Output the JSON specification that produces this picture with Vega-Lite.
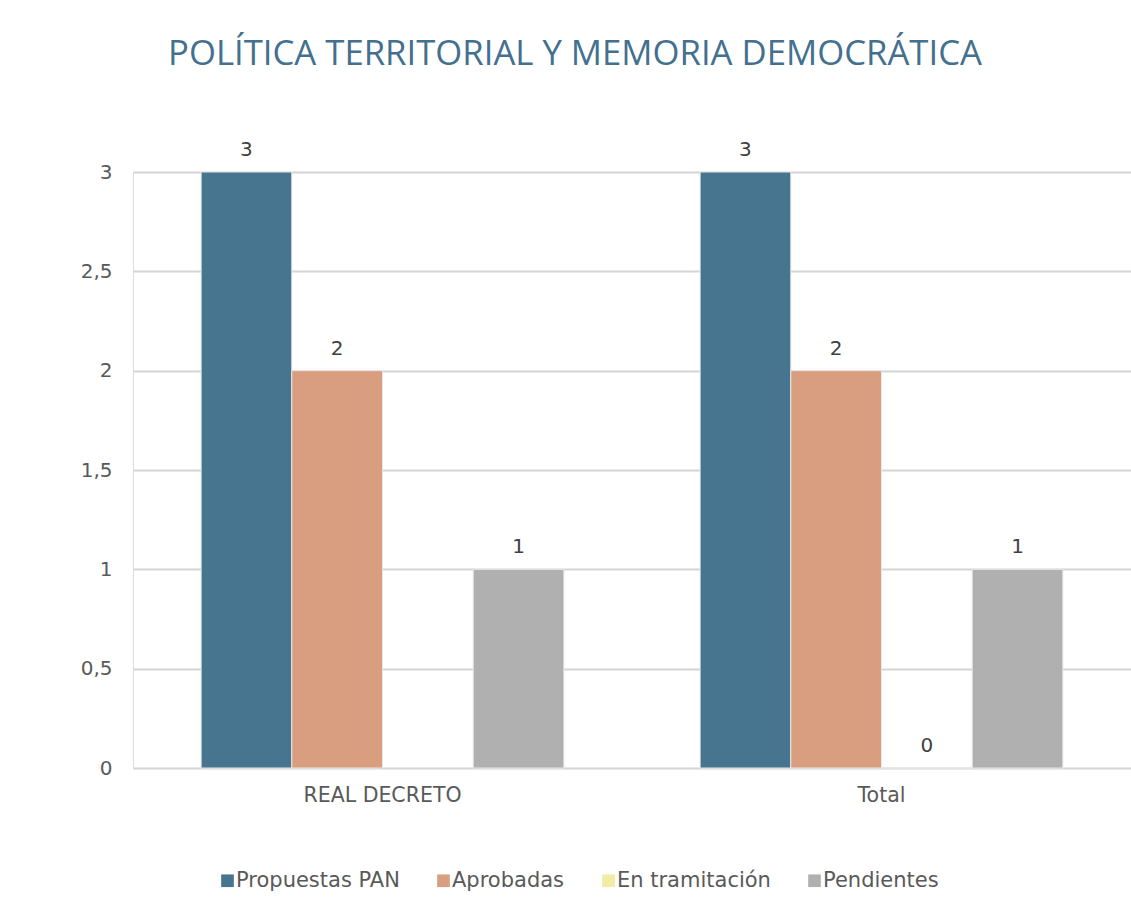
{
  "$schema": "https://vega.github.io/schema/vega-lite/v6.json",
  "autosize": {"type": "none"},
  "padding": {"left": 133, "top": 172, "right": 0, "bottom": 143},
  "width": 998,
  "height": 596,
  "background": "white",
  "title": {
    "text": "POLÍTICA TERRITORIAL Y MEMORIA DEMOCRÁTICA",
    "font": "Open Sans",
    "fontSize": 34.7,
    "fontWeight": "normal",
    "color": "#44708F",
    "anchor": "middle",
    "dx": -57,
    "baseline": "alphabetic",
    "offset": 40
  },
  "data": {
    "values": [
      {"cat": "REAL DECRETO", "serie": "Propuestas PAN", "valor": 3},
      {"cat": "REAL DECRETO", "serie": "Aprobadas", "valor": 2},
      {"cat": "REAL DECRETO", "serie": "En tramitación", "valor": null},
      {"cat": "REAL DECRETO", "serie": "Pendientes", "valor": 1},
      {"cat": "Total", "serie": "Propuestas PAN", "valor": 3},
      {"cat": "Total", "serie": "Aprobadas", "valor": 2},
      {"cat": "Total", "serie": "En tramitación", "valor": 0},
      {"cat": "Total", "serie": "Pendientes", "valor": 1}
    ]
  },
  "encoding": {
    "x": {
      "field": "cat",
      "type": "nominal",
      "sort": ["REAL DECRETO", "Total"],
      "scale": {"paddingInner": 0.273, "paddingOuter": 0.1365},
      "axis": {
        "title": null,
        "labelAngle": 0,
        "labelFont": "DejaVu Sans",
        "labelFontSize": 20.5,
        "labelColor": "#595959",
        "labelPadding": 17,
        "ticks": false,
        "domain": false
      }
    },
    "xOffset": {
      "field": "serie",
      "type": "nominal",
      "sort": ["Propuestas PAN", "Aprobadas", "En tramitación", "Pendientes"],
      "scale": {"paddingInner": 0, "paddingOuter": 0}
    },
    "y": {
      "field": "valor",
      "type": "quantitative",
      "scale": {"domain": [0, 3], "nice": false},
      "axis": {
        "title": null,
        "values": [0, 0.5, 1, 1.5, 2, 2.5, 3],
        "format": ".1~f",
        "labelExpr": "replace(datum.label, '.', ',')",
        "labelFont": "DejaVu Sans",
        "labelFontSize": 20,
        "labelColor": "#595959",
        "labelPadding": 21,
        "ticks": false,
        "domain": false,
        "grid": true,
        "gridColor": "#D4D4D4",
        "gridWidth": 2
      }
    }
  },
  "layer": [
    {
      "mark": {"type": "bar", "stroke": "#E8E8E8", "strokeWidth": 1},
      "encoding": {
        "color": {
          "field": "serie",
          "type": "nominal",
          "scale": {
            "domain": ["Propuestas PAN", "Aprobadas", "En tramitación", "Pendientes"],
            "range": ["#47758F", "#D99D7F", "#F0EBA5", "#B0B0B0"]
          },
          "legend": {
            "title": null,
            "orient": "none",
            "legendX": 84,
            "legendY": 698,
            "direction": "horizontal",
            "symbolType": "square",
            "symbolSize": 160,
            "symbolStrokeWidth": 0,
            "labelFont": "DejaVu Sans",
            "labelFontSize": 21,
            "labelColor": "#595959",
            "labelLimit": 0,
            "labelOffset": -2,
            "columnPadding": 33
          }
        }
      }
    },
    {
      "transform": [{"filter": "isValid(datum.valor)"}],
      "mark": {
        "type": "text",
        "baseline": "alphabetic",
        "dy": -16,
        "font": "DejaVu Sans",
        "fontSize": 20,
        "color": "#404040"
      },
      "encoding": {
        "text": {"field": "valor", "type": "quantitative"}
      }
    }
  ]
}
